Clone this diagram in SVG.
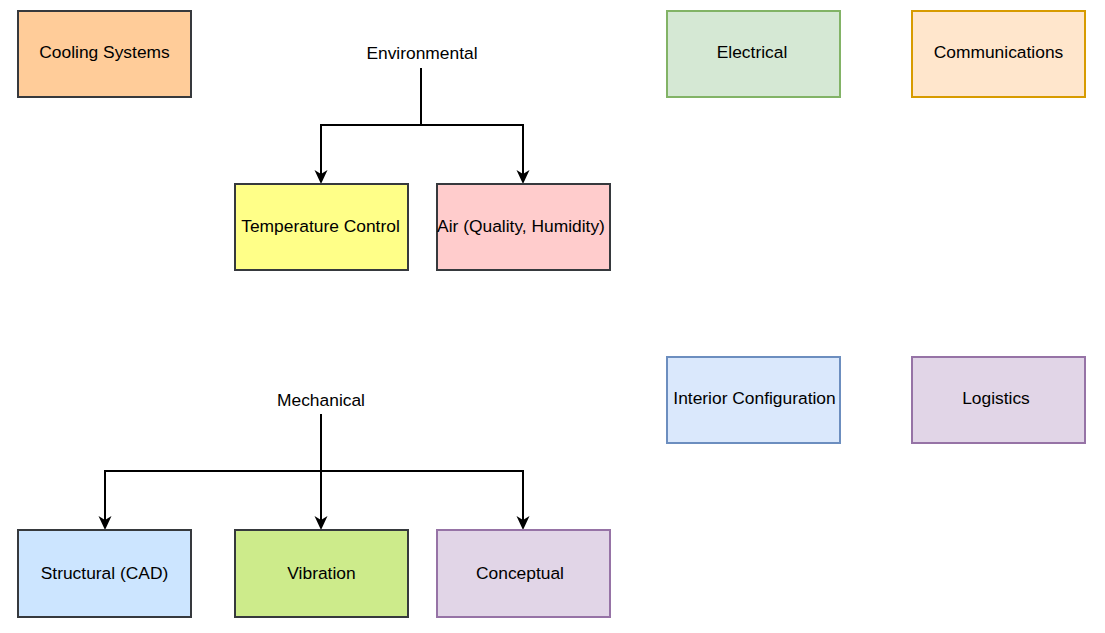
<svg xmlns="http://www.w3.org/2000/svg" width="1105" height="633" viewBox="0 0 1105 633">
<style>
text{font-family:"Liberation Sans",Arial,sans-serif;font-size:17.4px;fill:#000;text-anchor:middle;dominant-baseline:central}
.n{stroke-width:2}
.c{fill:none;stroke:#000;stroke-width:2}
.ah{fill:#000}
</style>
<defs>
<path id="head" d="M0,0 L-6.5,-14 L0,-10 L6.5,-14 Z"/>
</defs>
<rect width="1105" height="633" fill="#fff"/>
<g id="connectors">
<path class="c" d="M421,68 V125 H321 V178"/>
<path class="c" d="M421,125 H523 V178"/>
<path class="c" d="M321,414 V524"/>
<path class="c" d="M321,471 H105 V524"/>
<path class="c" d="M321,471 H523 V524"/>
<use href="#head" class="ah" x="321" y="184"/>
<use href="#head" class="ah" x="523" y="184"/>
<use href="#head" class="ah" x="105" y="530"/>
<use href="#head" class="ah" x="321" y="530"/>
<use href="#head" class="ah" x="523" y="530"/>
</g>
<g id="cooling"><rect class="n" x="18" y="11" width="173" height="86" fill="#ffcc99" stroke="#36393d"/><text x="104.5" y="52">Cooling Systems</text></g>
<g id="environmental"><text x="422" y="53">Environmental</text></g>
<g id="temperature"><rect class="n" x="235" y="184" width="173" height="86" fill="#ffff88" stroke="#36393d"/><text x="320.5" y="226">Temperature Control</text></g>
<g id="air"><rect class="n" x="437" y="184" width="173" height="86" fill="#ffcccc" stroke="#36393d"/><text x="521" y="226">Air (Quality, Humidity)</text></g>
<g id="electrical"><rect class="n" x="667" y="11" width="173" height="86" fill="#d5e8d4" stroke="#82b366"/><text x="752" y="52">Electrical</text></g>
<g id="communications"><rect class="n" x="912" y="11" width="173" height="86" fill="#ffe6cc" stroke="#d79b00"/><text x="998.5" y="52">Communications</text></g>
<g id="interior"><rect class="n" x="667" y="357" width="173" height="86" fill="#dae8fc" stroke="#6c8ebf"/><text x="754.5" y="398">Interior Configuration</text></g>
<g id="logistics"><rect class="n" x="912" y="357" width="173" height="86" fill="#e1d5e7" stroke="#9673a6"/><text x="996" y="398">Logistics</text></g>
<g id="mechanical"><text x="321" y="400">Mechanical</text></g>
<g id="structural"><rect class="n" x="18" y="530" width="173" height="87" fill="#cce5ff" stroke="#36393d"/><text x="104.5" y="573">Structural (CAD)</text></g>
<g id="vibration"><rect class="n" x="235" y="530" width="173" height="87" fill="#cdeb8b" stroke="#36393d"/><text x="321.5" y="573">Vibration</text></g>
<g id="conceptual"><rect class="n" x="437" y="530" width="173" height="87" fill="#e1d5e7" stroke="#9673a6"/><text x="520" y="573">Conceptual</text></g>
</svg>
